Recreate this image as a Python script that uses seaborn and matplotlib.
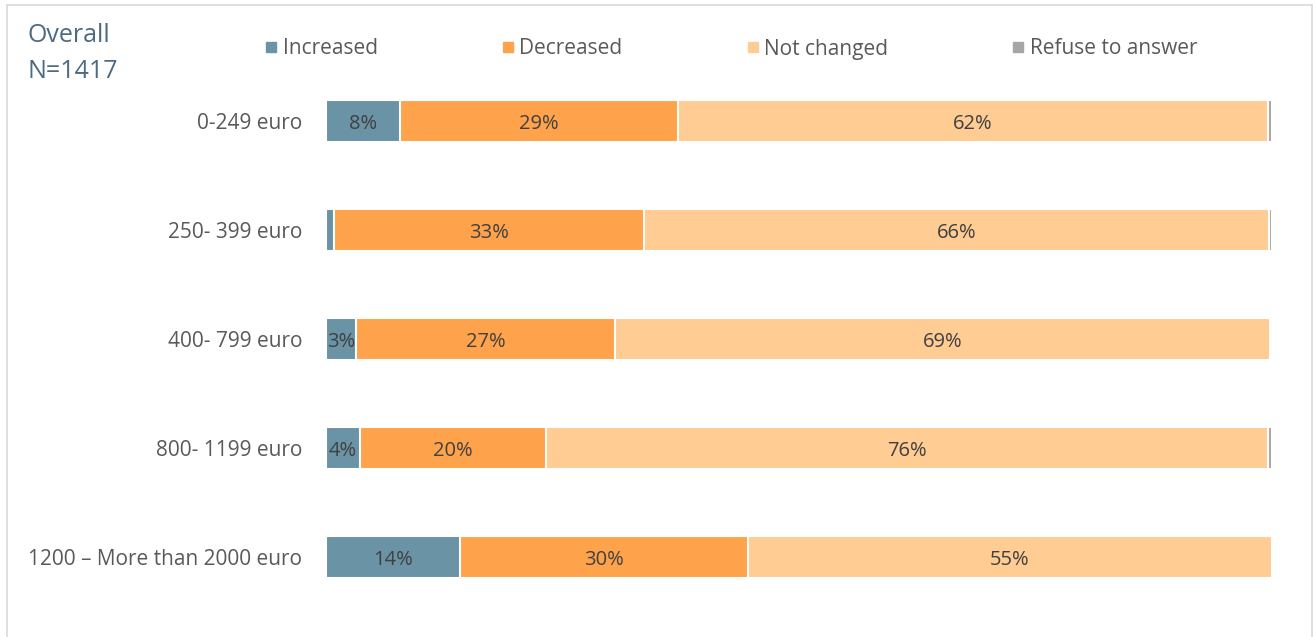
import matplotlib
matplotlib.use("Agg")
import matplotlib.pyplot as plt
from matplotlib.lines import Line2D
import numpy as np
import pandas as pd
import seaborn as sns

# Income groups and response shares (%)
groups = ["0-249 euro", "250- 399 euro", "400- 799 euro", "800- 1199 euro",
          "1200 – More than 2000 euro"]
increased = [7.8, 0.8, 3.2, 3.6, 14.2]
decreased = [29.4, 32.8, 27.4, 19.7, 30.4]
not_changed = [62.4, 66.1, 69.2, 76.3, 55.4]
refuse = [0.4, 0.3, 0.2, 0.4, 0.0]

series_names = ["Increased", "Decreased", "Not changed", "Refuse to answer"]
series_values = [increased, decreased, not_changed, refuse]
colors = ["#6A93A6", "#FFA24C", "#FFCC94", "#A6A6A6"]

title_color = "#4E6A82"
label_color = "#404040"
tick_color = "#595959"
font = "Open Sans"

sns.set_theme(style="white")
plt.rcParams["font.family"] = [font, "DejaVu Sans"]

fig = plt.figure(figsize=(13.13, 6.37), dpi=100)
ax = fig.add_axes([0.2483, 0.040, 0.9688 - 0.2483, 0.8556])

vals = np.array(series_values)
cum = np.cumsum(vals, axis=0)

# Stacked bars: draw cumulative totals from the outermost segment inward
for i in range(len(series_names) - 1, -1, -1):
    df = pd.DataFrame({"group": groups, "value": cum[i]})
    sns.barplot(data=df, x="value", y="group", orient="h", color=colors[i],
                saturation=1, width=0.385, edgecolor="white", linewidth=1.5,
                ax=ax)

# Percentage labels centred in each segment
starts = cum - vals
for i in range(3):
    for j, g in enumerate(groups):
        v = vals[i, j]
        if v >= 2:
            ax.text(starts[i, j] + v / 2, j, f"{v:.0f}%", ha="center",
                    va="center_baseline", fontsize=14.5, color=label_color)

ax.set_xlim(0, 100)
ax.set_ylim(len(groups) - 0.5, -0.5)
ax.set_xlabel("")
ax.set_ylabel("")
ax.set_xticks([])
for s in ax.spines.values():
    s.set_visible(False)
ax.tick_params(axis="y", length=0, pad=17, labelsize=15, labelcolor=tick_color)

# Legend across the top
handles = [Line2D([0], [0], marker="s", linestyle="", markersize=7.5,
                  markerfacecolor=c, markeredgecolor=c) for c in colors]
fig.legend(handles, series_names, loc="center left", ncol=4,
           bbox_to_anchor=(266 / 1313, 1 - 49 / 637), frameon=False,
           fontsize=15, labelcolor=tick_color, handlelength=0.5,
           handletextpad=0.3, columnspacing=6.0, borderpad=0,
           borderaxespad=0)

# Chart title
fig.text(27 / 1313, 1 - 23 / 637, "Overall\nN=1417", ha="left", va="top",
         fontsize=18, color=title_color, linespacing=1.6)

# Light frame around the chart area
frame_c = "#D9D9D9"
fig.add_artist(Line2D([7 / 1313, 7 / 1313], [0, 1 - 5 / 637], color=frame_c,
                      lw=1.2, transform=fig.transFigure))
fig.add_artist(Line2D([7 / 1313, 1311.5 / 1313], [1 - 5 / 637, 1 - 5 / 637],
                      color=frame_c, lw=1.2, transform=fig.transFigure))
fig.add_artist(Line2D([1311.5 / 1313, 1311.5 / 1313], [0, 1 - 5 / 637],
                      color=frame_c, lw=1.2, transform=fig.transFigure))

fig.savefig("out.png", dpi=100, facecolor="white")
